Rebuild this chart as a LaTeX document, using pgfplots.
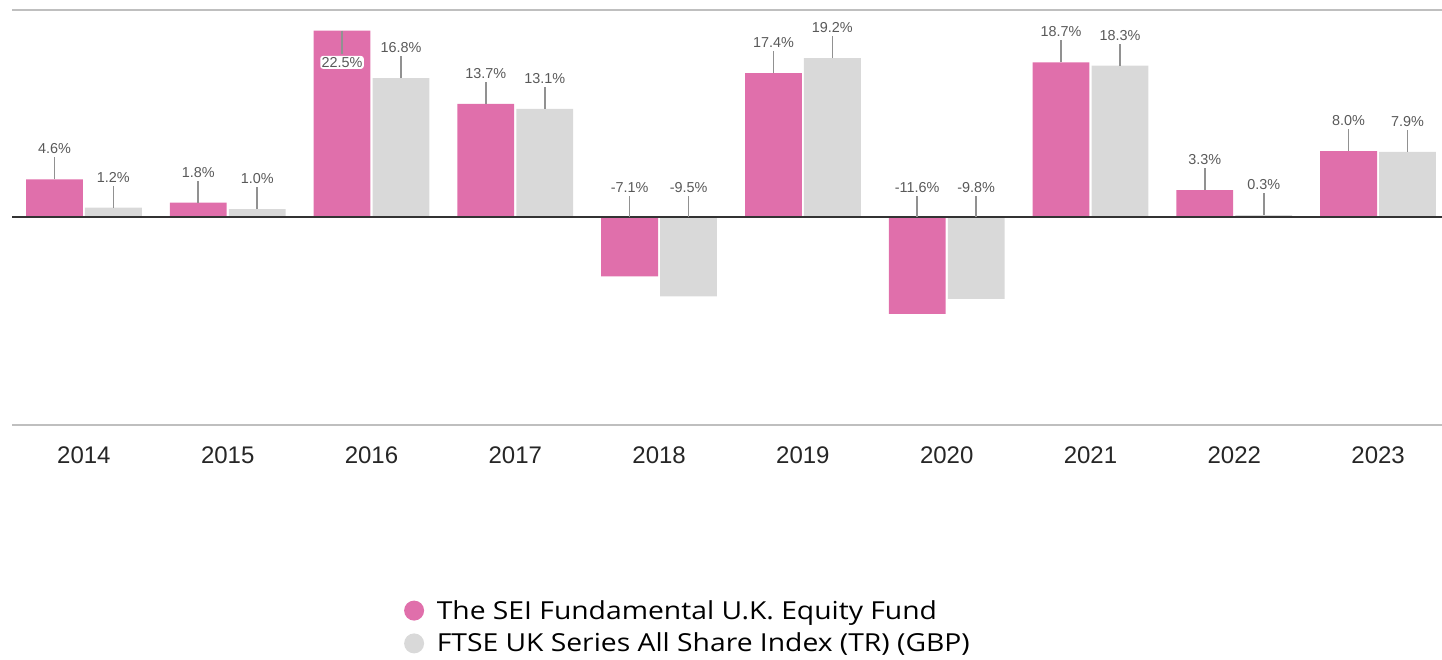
\documentclass[border=0pt]{standalone}
\usepackage{pgfplots}
\pgfplotsset{compat=1.18}
\usepackage{fontspec}
\setmainfont{Liberation Sans}
\newfontfamily\legfont[FakeStretch=1.14]{Open Sans}
\definecolor{pinkc}{RGB}{224,111,171}
\definecolor{grayc}{RGB}{217,217,217}
\definecolor{labc}{RGB}{89,89,89}
\definecolor{leadc}{RGB}{145,145,145}
\definecolor{framec}{RGB}{191,191,191}
\begin{document}
\begin{tikzpicture}
\path[use as bounding box] (-9pt,-176.25pt) rectangle (1072.5pt,318.75pt);
\begin{axis}[
  scale only axis, width=1072.5pt, height=311.25pt,
  xmin=-0.5, xmax=9.445, ymin=-25, ymax=25,
  axis x line=box, axis y line=none,
  x axis line style={draw=framec, line width=1.5pt},
  major tick length=0pt, ytick=\empty,
  xtick={0,...,9},
  xticklabels={2014,2015,2016,2017,2018,2019,2020,2021,2022,2023},
  xticklabel style={font=\fontsize{18}{21}\selectfont, text=black!85, anchor=base, yshift=-28.5pt},
  /pgf/number format/assume math mode=true,
  clip=false,
  every node near coord/.append style={anchor=south, inner sep=0pt, font=\fontsize{10.8}{13}\selectfont, text=labc},
  legend style={draw=none, fill=none, at={(axis description cs:0.274,-0.415)}, anchor=north west,
    font=\legfont\fontsize{18.6}{25.5}\selectfont, cells={anchor=west}, inner sep=0pt, row sep=5pt,
    /tikz/every odd column/.append style={column sep=7.5pt}},
  legend cell align=left,
]
\addplot[ybar, bar width=0.395, bar shift=-0.205, fill=pinkc, draw=none,
  legend image code/.code={\fill[pinkc] (0pt,0pt) circle (7.5pt);}]
  coordinates {(0,4.6) (1,1.8) (2,22.5) (3,13.7) (4,-7.1) (5,17.4) (6,-11.6) (7,18.7) (8,3.3) (9,8.0)};
\addlegendentry{The SEI Fundamental U.K. Equity Fund}
\addplot[ybar, bar width=0.395, bar shift=0.205, fill=grayc, draw=none,
  legend image code/.code={\fill[grayc] (0pt,0pt) circle (7.5pt);}]
  coordinates {(0,1.2) (1,1.0) (2,16.8) (3,13.1) (4,-9.5) (5,19.2) (6,-9.8) (7,18.3) (8,0.3) (9,7.9)};
\addlegendentry{FTSE UK Series All Share Index (TR) (GBP)}
\addplot[black!80, line width=1.5pt, forget plot] coordinates {(-0.5,0) (9.445,0)};
% labels, fund (x = category - 0.205)
\addplot[draw=none, mark=none, only marks, forget plot,
  point meta=explicit,
  nodes near coords={\pgfmathprintnumber[fixed,fixed zerofill,precision=1]{\pgfplotspointmeta}\%},
  every node near coord/.append style={yshift=18.75pt},
  error bars/.cd, y dir=plus, y fixed=2.65, error mark=none,
  error bar style={draw=leadc, line width=1.1pt}]
  coordinates {(-0.205,4.6)[4.6] (0.795,1.8)[1.8] (2.795,13.7)[13.7] (3.795,0)[-7.1] (4.795,17.4)[17.4] (5.795,0)[-11.6] (6.795,18.7)[18.7] (7.795,3.3)[3.3] (8.795,8.0)[8.0]};
% label, fund 2016 (inside the bar)
\addplot[draw=none, mark=none, only marks, forget plot,
  point meta=explicit,
  nodes near coords={\pgfmathprintnumber[fixed,fixed zerofill,precision=1]{\pgfplotspointmeta}\%},
  every node near coord/.append style={yshift=-28.75pt, fill=white, inner sep=1pt, rounded corners=2pt},
  error bars/.cd, y dir=minus, y fixed=2.75, error mark=none,
  error bar style={draw=leadc, line width=1.1pt}]
  coordinates {(1.795,22.5)[22.5]};
% labels, index (x = category + 0.205)
\addplot[draw=none, mark=none, only marks, forget plot,
  point meta=explicit,
  nodes near coords={\pgfmathprintnumber[fixed,fixed zerofill,precision=1]{\pgfplotspointmeta}\%},
  every node near coord/.append style={yshift=18.75pt},
  error bars/.cd, y dir=plus, y fixed=2.65, error mark=none,
  error bar style={draw=leadc, line width=1.1pt}]
  coordinates {(0.205,1.2)[1.2] (1.205,1.0)[1.0] (2.205,16.8)[16.8] (3.205,13.1)[13.1] (4.205,0)[-9.5] (5.205,19.2)[19.2] (6.205,0)[-9.8] (7.205,18.3)[18.3] (8.205,0.3)[0.3] (9.205,7.9)[7.9]};
\end{axis}
\end{tikzpicture}
\end{document}
